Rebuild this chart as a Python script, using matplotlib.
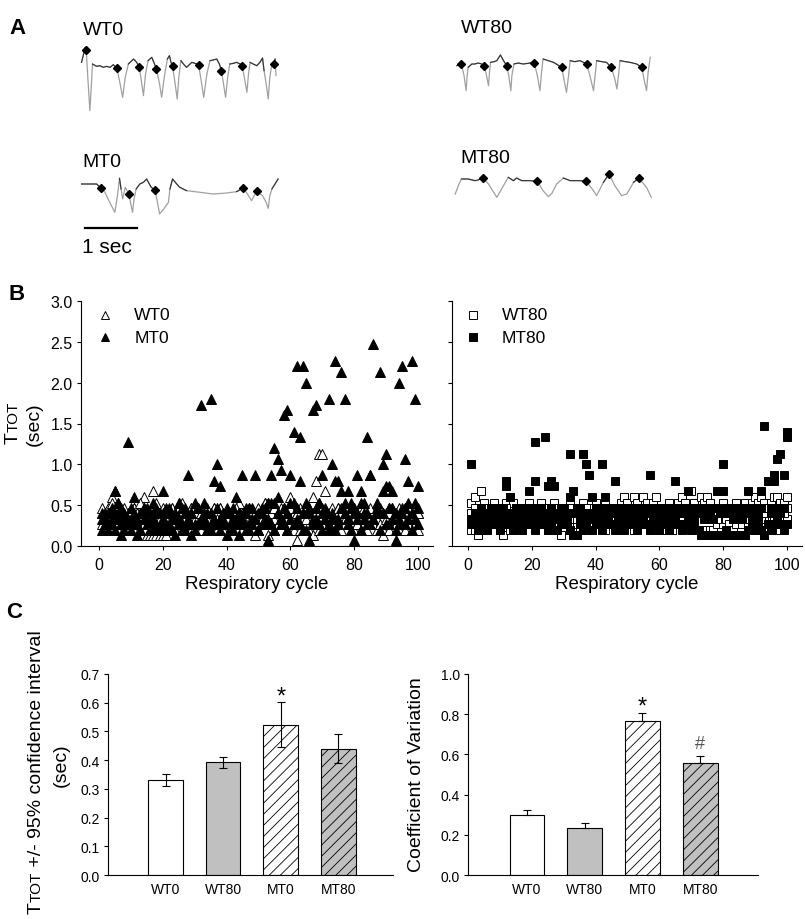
import numpy as np
import matplotlib
matplotlib.use('Agg')
from matplotlib import pyplot as plt
from matplotlib.ticker import FormatStrFormatter

plt.rcParams['font.family'] = ['Liberation Sans', 'DejaVu Sans']
plt.rcParams['hatch.linewidth'] = 0.6
plt.rcParams['axes.linewidth'] = 0.8

W, H = 805, 920
PX_PER_SEC = 52   # length of the 1 sec scale bar

# ---------------- panel A: example traces (time in s, amplitude a.u.), diamonds = breath onsets
wt0_t = [0.03, 0.10, 0.12, 0.15, 0.19, 0.22, 0.24, 0.32, 0.38, 0.45, 0.51, 0.58, 0.64, 0.71, 0.76, 0.82,
         0.87, 0.93, 1.03, 1.09, 1.14, 1.18, 1.22, 1.26, 1.31, 1.38, 1.42, 1.47, 1.53, 1.57, 1.62, 1.68,
         1.72, 1.75, 1.78, 1.83, 1.87, 1.90, 1.94, 2.00, 2.05, 2.15, 2.21, 2.28, 2.33, 2.38, 2.44, 2.50,
         2.56, 2.63, 2.68, 2.72, 2.76, 2.80, 2.84, 2.88, 2.95, 3.01, 3.08, 3.12, 3.16, 3.21, 3.24, 3.27,
         3.33, 3.40, 3.46, 3.51, 3.54, 3.58, 3.62, 3.65, 3.69, 3.74, 3.75, 3.77]
wt0_amp = [-0.85, -0.40, -0.48, -1.30, -2.30, -1.50, -0.90, -0.97, -0.95, -1.00,
           -0.97, -1.00, -0.92, -1.03, -1.40, -1.90, -1.30, -0.90, -0.75, -0.85,
           -1.00, -1.40, -1.85, -1.20, -0.80, -0.70, -0.85, -1.05, -1.50, -1.90,
           -1.30, -0.75, -0.65, -0.85, -0.97, -1.50, -1.95, -1.30, -0.80, -0.92,
           -1.00, -0.85, -0.88, -0.92, -1.40, -1.90, -1.20, -0.80, -0.78, -0.75,
           -0.90, -1.10, -1.50, -1.90, -1.30, -0.90, -0.88, -0.85, -0.90, -0.97,
           -1.30, -1.75, -1.20, -0.85, -0.90, -0.95, -0.85, -0.72, -1.10, -1.50,
           -1.95, -1.30, -0.90, -0.90, -0.75, -1.25]
wt0_marks = [2, 13, 20, 27, 34, 43, 51, 59, 73]

mt0_t = [0.03, 0.32, 0.40, 0.48, 0.54, 0.61, 0.67, 0.72, 0.76, 0.79, 0.82, 0.87, 0.94, 0.97, 1.01, 1.04,
         1.08, 1.15, 1.22, 1.28, 1.37, 1.44, 1.49, 1.53, 1.60, 1.70, 1.73, 1.78, 1.86, 1.92, 2.05, 2.31,
         2.56, 2.82, 3.01, 3.14, 3.22, 3.30, 3.35, 3.40, 3.46, 3.51, 3.58, 3.62, 3.65, 3.69, 3.75, 3.81]
mt0_amp = [-0.45, -0.45, -0.57, -0.70, -0.90, -1.12, -1.30, -0.80, -0.28, -0.60,
           -0.90, -0.55, -0.75, -1.00, -1.30, -0.90, -0.60, -0.45, -0.40, -0.30,
           -0.55, -0.62, -1.00, -1.35, -1.22, -1.00, -0.60, -0.30, -0.45, -0.55,
           -0.65, -0.70, -0.75, -0.72, -0.68, -0.57, -0.75, -0.95, -0.80, -0.67,
           -0.75, -0.80, -1.00, -1.18, -0.80, -0.60, -0.45, -0.30]
mt0_marks = [2, 12, 21, 35, 39]

wt80_t = [0.13, 0.22, 0.27, 0.31, 0.33, 0.35, 0.42, 0.48, 0.54, 0.61, 0.65, 0.69, 0.74, 0.76, 0.78, 0.85,
          0.90, 0.97, 1.03, 1.09, 1.13, 1.17, 1.19, 1.23, 1.31, 1.41, 1.54, 1.62, 1.68, 1.73, 1.76, 1.79,
          1.89, 1.99, 2.15, 2.19, 2.24, 2.28, 2.31, 2.40, 2.50, 2.63, 2.69, 2.76, 2.79, 2.82, 2.92, 3.01,
          3.10, 3.17, 3.21, 3.24, 3.27, 3.37, 3.46, 3.59, 3.69, 3.73, 3.78, 3.81, 3.85]
wt80_amp = [-0.50, -0.45, -0.80, -1.25, -0.80, -0.55, -0.45, -0.45, -0.42, -0.45,
            -0.50, -0.70, -1.10, -0.70, -0.40, -0.38, -0.35, -0.18, -0.35, -0.50,
            -0.80, -1.25, -0.80, -0.45, -0.42, -0.45, -0.42, -0.42, -0.80, -1.25,
            -0.70, -0.30, -0.35, -0.40, -0.55, -0.90, -1.30, -0.80, -0.35, -0.38,
            -0.35, -0.45, -0.80, -1.25, -0.80, -0.35, -0.38, -0.40, -0.55, -0.90,
            -1.20, -0.80, -0.35, -0.38, -0.40, -0.45, -0.55, -0.90, -1.25, -0.70,
            -0.25]
wt80_marks = [1, 10, 19, 27, 34, 41, 48, 56]

mt80_t = [0.10, 0.16, 0.22, 0.35, 0.48, 0.54, 0.63, 0.74, 0.82, 0.90, 1.01, 1.12, 1.22, 1.28, 1.38, 1.54,
          1.68, 1.79, 1.89, 1.96, 2.05, 2.18, 2.31, 2.50, 2.62, 2.76, 2.82, 2.95, 3.06, 3.17, 3.30, 3.40,
          3.53, 3.63, 3.78, 3.87]
mt80_amp = [-0.90, -0.65, -0.45, -0.45, -0.50, -0.48, -0.42, -0.60, -0.80, -1.00,
            -0.70, -0.40, -0.50, -0.42, -0.50, -0.50, -0.52, -0.80, -0.98, -0.88,
            -0.60, -0.42, -0.50, -0.50, -0.52, -0.80, -0.95, -0.55, -0.30, -0.65,
            -0.95, -0.90, -0.55, -0.42, -0.70, -1.00]
mt80_marks = [6, 16, 24, 28, 33]
scale_bar_sec = 1.0

# ---------------- panel B: TTOT (sec) for 100 respiratory cycles, 3 animals per group
wt0_a = [0.40, 0.33, 0.40, 0.60, 0.67, 0.40, 0.33, 0.27, 0.40, 0.33, 0.47, 0.40, 0.33, 0.60, 0.40, 0.27, 0.67, 0.40, 0.33, 0.40,
         0.40, 0.33, 0.47, 0.40, 0.53, 0.40, 0.33, 0.40, 0.47, 0.40, 0.33, 0.40, 0.40, 0.33, 0.40, 0.47, 0.40, 0.47, 0.33, 0.40,
         0.33, 0.40, 0.40, 0.53, 0.40, 0.33, 0.40, 0.40, 0.13, 0.40, 0.33, 0.53, 0.40, 0.40, 0.33, 0.40, 0.47, 0.40, 0.33, 0.60,
         0.40, 0.07, 0.33, 0.40, 0.47, 0.40, 0.60, 0.80, 1.13, 1.13, 0.67, 0.40, 0.33, 0.40, 0.47, 0.40, 0.33, 0.40, 0.40, 0.33,
         0.40, 0.47, 0.40, 0.33, 0.40, 0.40, 0.33, 0.40, 0.13, 0.40, 0.47, 0.40, 0.33, 0.40, 0.40, 0.47, 0.40, 0.33, 0.40, 0.40]
wt0_b = [0.27, 0.20, 0.27, 0.33, 0.27, 0.20, 0.27, 0.33, 0.20, 0.27, 0.20, 0.27, 0.33, 0.27, 0.13, 0.13, 0.13, 0.13, 0.13, 0.13,
         0.13, 0.20, 0.27, 0.20, 0.33, 0.27, 0.20, 0.27, 0.20, 0.33, 0.27, 0.20, 0.27, 0.20, 0.27, 0.33, 0.20, 0.27, 0.20, 0.27,
         0.20, 0.27, 0.33, 0.27, 0.20, 0.27, 0.20, 0.27, 0.27, 0.20, 0.33, 0.27, 0.13, 0.27, 0.20, 0.27, 0.33, 0.27, 0.20, 0.27,
         0.20, 0.27, 0.20, 0.33, 0.27, 0.20, 0.13, 0.27, 0.20, 0.27, 0.33, 0.20, 0.27, 0.20, 0.27, 0.20, 0.27, 0.33, 0.27, 0.20,
         0.27, 0.20, 0.27, 0.20, 0.33, 0.27, 0.20, 0.27, 0.20, 0.27, 0.20, 0.33, 0.27, 0.20, 0.27, 0.20, 0.27, 0.20, 0.27, 0.20]
wt0_c = [0.47, 0.40, 0.47, 0.53, 0.47, 0.53, 0.40, 0.47, 0.33, 0.40, 0.47, 0.40, 0.53, 0.47, 0.40, 0.33, 0.47, 0.53, 0.40, 0.47,
         0.33, 0.40, 0.47, 0.40, 0.47, 0.53, 0.40, 0.33, 0.47, 0.40, 0.47, 0.40, 0.33, 0.47, 0.40, 0.47, 0.33, 0.47, 0.40, 0.33,
         0.40, 0.33, 0.47, 0.40, 0.33, 0.40, 0.47, 0.33, 0.40, 0.47, 0.40, 0.53, 0.53, 0.40, 0.47, 0.40, 0.33, 0.47, 0.40, 0.47,
         0.33, 0.40, 0.47, 0.40, 0.33, 0.47, 0.40, 0.33, 0.40, 0.47, 0.40, 0.33, 0.47, 0.40, 0.47, 0.40, 0.47, 0.33, 0.40, 0.47,
         0.40, 0.33, 0.47, 0.40, 0.47, 0.33, 0.40, 0.47, 0.40, 0.33, 0.40, 0.47, 0.40, 0.47, 0.33, 0.40, 0.47, 0.40, 0.33, 0.40]

mt0_a = [0.40, 0.33, 0.27, 0.47, 0.67, 0.40, 0.13, 0.33, 0.27, 0.20, 0.60, 0.13, 0.40, 0.33, 0.47, 0.20, 0.53, 0.27, 0.40, 0.67,
         0.20, 0.47, 0.33, 0.13, 0.53, 0.27, 0.40, 0.87, 0.13, 0.53, 0.27, 0.33, 0.53, 0.20, 0.40, 0.27, 0.47, 0.33, 0.27, 0.13,
         0.40, 0.33, 0.60, 0.13, 0.87, 0.47, 0.20, 0.33, 0.87, 0.40, 0.27, 0.47, 0.07, 0.87, 0.53, 0.60, 0.33, 0.27, 0.40, 0.87,
         0.27, 0.33, 0.80, 0.40, 0.20, 0.07, 0.33, 0.47, 0.27, 0.87, 0.40, 0.20, 0.33, 0.80, 0.27, 0.67, 0.40, 0.33, 0.47, 0.07,
         0.87, 0.67, 0.40, 0.27, 0.87, 0.33, 0.53, 0.40, 0.67, 0.73, 0.27, 0.67, 0.07, 0.33, 0.47, 0.27, 0.80, 0.40, 0.33, 0.73]
mt0_b = [0.20, 0.27, 0.40, 0.33, 0.20, 0.53, 0.27, 0.40, 0.33, 0.47, 0.27, 0.33, 0.20, 0.47, 0.27, 0.40, 0.33, 0.20, 0.27, 0.40,
         0.47, 0.27, 0.20, 0.40, 0.33, 0.20, 0.47, 0.27, 0.40, 0.20, 0.47, 0.27, 0.33, 0.40, 0.20, 0.33, 0.27, 0.20, 0.40, 0.47,
         0.27, 0.20, 0.33, 0.40, 0.27, 0.20, 0.47, 0.27, 0.33, 0.20, 0.40, 0.27, 0.33, 0.53, 0.20, 0.40, 0.27, 0.47, 0.20, 0.33,
         0.53, 0.47, 0.27, 0.20, 0.53, 0.40, 0.27, 0.33, 0.53, 0.20, 0.47, 0.27, 0.40, 0.20, 0.33, 0.47, 0.53, 0.27, 0.20, 0.40,
         0.33, 0.20, 0.53, 0.40, 0.27, 0.33, 0.47, 0.20, 0.40, 0.27, 0.47, 0.33, 0.20, 0.27, 0.40, 0.47, 0.33, 0.20, 0.53, 0.27]
mt0_c = [0.33, 0.40, 0.20, 0.27, 0.40, 0.33, 0.47, 0.20, 1.27, 0.33, 0.40, 0.27, 0.20, 0.40, 0.33, 0.27, 0.40, 0.47, 0.20, 0.33,
         0.27, 0.40, 0.20, 0.33, 0.27, 0.47, 0.20, 0.33, 0.40, 0.27, 0.47, 1.73, 0.40, 0.27, 1.80, 0.80, 1.00, 0.73, 0.33, 0.40,
         0.20, 0.47, 0.27, 0.40, 0.33, 0.40, 0.27, 0.47, 0.33, 0.20, 0.47, 0.33, 0.53, 0.27, 1.20, 1.07, 0.93, 1.60, 1.67, 0.53,
         1.40, 2.20, 1.33, 2.20, 2.00, 0.47, 1.67, 1.73, 0.53, 0.40, 0.33, 1.80, 1.00, 2.27, 0.80, 2.13, 1.80, 0.67, 0.53, 0.47,
         0.40, 0.53, 0.33, 1.33, 0.87, 2.47, 0.40, 2.13, 1.00, 1.13, 0.73, 0.47, 0.40, 2.00, 2.20, 1.07, 0.53, 2.27, 1.80, 0.47]

wt80_a = [0.53, 0.60, 0.47, 0.67, 0.53, 0.40, 0.47, 0.53, 0.40, 0.47, 0.40, 0.53, 0.60, 0.53, 0.47, 0.40, 0.47, 0.40, 0.53, 0.47,
          0.40, 0.47, 0.53, 0.40, 0.47, 0.40, 0.53, 0.47, 0.40, 0.47, 0.40, 0.53, 0.47, 0.40, 0.47, 0.53, 0.40, 0.47, 0.40, 0.53,
          0.47, 0.40, 0.53, 0.47, 0.40, 0.47, 0.40, 0.53, 0.60, 0.53, 0.47, 0.60, 0.53, 0.47, 0.60, 0.53, 0.47, 0.53, 0.60, 0.47,
          0.40, 0.47, 0.53, 0.47, 0.40, 0.53, 0.60, 0.53, 0.47, 0.67, 0.53, 0.47, 0.60, 0.53, 0.60, 0.53, 0.47, 0.40, 0.47, 0.53,
          0.47, 0.40, 0.47, 0.53, 0.47, 0.40, 0.53, 0.47, 0.53, 0.60, 0.53, 0.60, 0.53, 0.47, 0.53, 0.60, 0.60, 0.53, 0.53, 0.60]
wt80_b = [0.20, 0.20, 0.13, 0.27, 0.20, 0.27, 0.33, 0.27, 0.33, 0.20, 0.13, 0.27, 0.20, 0.20, 0.27, 0.33, 0.27, 0.33, 0.27, 0.33,
          0.27, 0.33, 0.27, 0.33, 0.20, 0.20, 0.20, 0.27, 0.13, 0.27, 0.33, 0.27, 0.33, 0.27, 0.20, 0.27, 0.33, 0.27, 0.20, 0.27,
          0.33, 0.27, 0.20, 0.27, 0.33, 0.27, 0.20, 0.20, 0.27, 0.33, 0.27, 0.20, 0.27, 0.33, 0.27, 0.33, 0.27, 0.20, 0.27, 0.33,
          0.20, 0.20, 0.20, 0.20, 0.27, 0.33, 0.27, 0.33, 0.27, 0.27, 0.20, 0.20, 0.20, 0.20, 0.20, 0.20, 0.20, 0.27, 0.33, 0.27,
          0.33, 0.27, 0.20, 0.27, 0.33, 0.27, 0.33, 0.27, 0.20, 0.27, 0.33, 0.27, 0.33, 0.27, 0.20, 0.27, 0.33, 0.20, 0.27, 0.33]
wt80_c = [0.40, 0.47, 0.40, 0.33, 0.47, 0.40, 0.33, 0.40, 0.47, 0.33, 0.40, 0.47, 0.40, 0.33, 0.40, 0.47, 0.33, 0.40, 0.47, 0.40,
          0.33, 0.40, 0.40, 0.47, 0.33, 0.40, 0.33, 0.40, 0.47, 0.33, 0.40, 0.47, 0.40, 0.33, 0.40, 0.40, 0.47, 0.33, 0.40, 0.33,
          0.40, 0.47, 0.40, 0.33, 0.40, 0.33, 0.47, 0.40, 0.33, 0.40, 0.33, 0.40, 0.47, 0.40, 0.33, 0.40, 0.40, 0.47, 0.40, 0.33,
          0.47, 0.40, 0.33, 0.40, 0.47, 0.40, 0.33, 0.40, 0.47, 0.40, 0.33, 0.40, 0.47, 0.40, 0.33, 0.40, 0.47, 0.33, 0.40, 0.40,
          0.40, 0.47, 0.33, 0.40, 0.40, 0.47, 0.40, 0.33, 0.40, 0.47, 0.40, 0.33, 0.40, 0.47, 0.40, 0.33, 0.40, 0.27, 0.40, 0.47]

mt80_a = [0.33, 0.27, 0.20, 0.27, 0.33, 0.20, 0.27, 0.33, 0.27, 0.20, 0.27, 0.33, 0.27, 0.20, 0.33, 0.27, 0.20, 0.27, 0.33, 0.27,
          0.20, 0.27, 0.33, 0.27, 0.20, 0.27, 0.33, 0.20, 0.27, 0.33, 0.27, 0.20, 0.13, 0.13, 0.27, 0.20, 0.27, 0.33, 0.20, 0.27,
          0.33, 0.20, 0.27, 0.33, 0.27, 0.20, 0.27, 0.33, 0.20, 0.27, 0.33, 0.27, 0.20, 0.27, 0.33, 0.27, 0.20, 0.33, 0.27, 0.20,
          0.27, 0.33, 0.20, 0.27, 0.33, 0.27, 0.20, 0.27, 0.33, 0.20, 0.27, 0.20, 0.13, 0.13, 0.13, 0.13, 0.13, 0.13, 0.13, 0.13,
          0.20, 0.13, 0.13, 0.13, 0.13, 0.13, 0.13, 0.20, 0.27, 0.20, 0.27, 0.20, 0.13, 0.27, 0.20, 0.27, 0.33, 0.27, 0.20, 0.27]
mt80_b = [0.27, 0.33, 0.40, 0.33, 0.27, 0.40, 0.47, 0.33, 0.40, 0.47, 0.40, 0.73, 0.60, 0.40, 0.33, 0.40, 0.47, 0.40, 0.67, 0.47,
          0.80, 0.40, 0.47, 0.33, 0.73, 0.80, 0.73, 0.40, 0.33, 0.47, 0.40, 0.60, 0.67, 0.40, 0.47, 0.40, 0.33, 0.40, 0.60, 0.47,
          0.40, 0.33, 0.60, 0.47, 0.40, 0.80, 0.40, 0.47, 0.33, 0.40, 0.47, 0.40, 0.33, 0.47, 0.40, 0.47, 0.87, 0.40, 0.47, 0.40,
          0.33, 0.40, 0.47, 0.40, 0.80, 0.47, 0.40, 0.47, 0.67, 0.40, 0.33, 0.40, 0.47, 0.40, 0.33, 0.40, 0.47, 0.67, 0.40, 0.67,
          0.47, 0.40, 0.33, 0.47, 0.40, 0.33, 0.40, 0.67, 0.47, 0.40, 0.33, 0.67, 0.13, 0.80, 0.47, 0.87, 1.07, 1.13, 0.87, 1.33]
mt80_c = [1.00, 0.40, 0.33, 0.47, 0.40, 0.33, 0.27, 0.40, 0.33, 0.40, 0.47, 0.80, 0.40, 0.33, 0.47, 0.40, 0.33, 0.47, 0.40, 0.33,
          1.27, 0.47, 0.40, 1.33, 0.40, 0.47, 0.40, 0.33, 0.47, 0.40, 0.33, 1.13, 0.40, 0.47, 0.33, 1.13, 1.00, 0.87, 0.40, 0.33,
          0.47, 1.00, 0.40, 0.33, 0.47, 0.40, 0.33, 0.47, 0.40, 0.47, 0.33, 0.40, 0.47, 0.40, 0.33, 0.40, 0.47, 0.40, 0.33, 0.47,
          0.40, 0.47, 0.40, 0.33, 0.47, 0.40, 0.47, 0.40, 0.33, 0.47, 0.40, 0.47, 0.40, 0.33, 0.47, 0.40, 0.33, 0.47, 0.40, 1.00,
          0.40, 0.47, 0.40, 0.33, 0.47, 0.40, 0.47, 0.40, 0.33, 0.47, 0.40, 0.47, 1.47, 0.80, 0.40, 0.80, 0.47, 0.40, 0.47, 1.40]

# ---------------- panel C: group summaries
c_groups = ['WT0', 'WT80', 'MT0', 'MT80']
bar_fill = ['white', '#c0c0c0', 'white', '#c0c0c0']
bar_hatch = ['', '', '///', '///']
ttot_mean = [0.33, 0.393, 0.523, 0.44]
ttot_ci = [0.021, 0.019, 0.078, 0.05]
ttot_sig = ['', '', '*', '']
cv_mean = [0.30, 0.236, 0.765, 0.556]
cv_err = [0.025, 0.024, 0.043, 0.038]
cv_sig = ['', '', '*', '#']


fig = plt.figure(figsize=(W / 100, H / 100), dpi=100)


def px_axes(l, t, r, b):
    return fig.add_axes([l / W, 1 - b / H, (r - l) / W, (b - t) / H])


def px_text(x, y, s, **kw):
    return fig.text(x / W, 1 - y / H, s, **kw)


def stacked_label(x, y, pieces):
    # vertical label written bottom to top, pieces of different size (small caps TOT)
    rend = fig.canvas.get_renderer()
    for s, size in pieces:
        t = px_text(x, y, s, fontsize=size, rotation=90, rotation_mode='anchor', ha='left', va='baseline')
        y -= t.get_window_extent(rend).height


# ---- A
traces = [(wt0_t, wt0_amp, wt0_marks, (80, 35, 280, 115)),
          (mt0_t, mt0_amp, mt0_marks, (80, 170, 280, 220)),
          (wt80_t, wt80_amp, wt80_marks, (450, 50, 655, 100)),
          (mt80_t, mt80_amp, mt80_marks, (450, 165, 655, 205))]
trace_axes = []
for t, amp, marks, (l, top, r, b) in traces:
    ax = px_axes(l, top, r, b)
    ax.set_xlim(0, (r - l) / PX_PER_SEC)
    ax.set_ylim(-(b - top) * 0.03, 0)
    ax.axis('off')
    t = np.array(t)
    amp = np.array(amp)
    thr = amp.min() + 0.62 * (amp.max() - amp.min())
    ax.plot(t, amp, color='#a0a0a0', lw=0.9)
    ax.plot(t, np.where(amp > thr, amp, np.nan), color='#303030', lw=0.8)
    ax.plot(t[marks], amp[marks], ls='none', marker='D', ms=3.8, color='black')
    trace_axes.append(ax)

trace_axes[1].plot([0.1, 0.1 + scale_bar_sec], [-1.77, -1.77], color='black', lw=1.6, clip_on=False)

px_text(9, 34, 'A', fontsize=16, fontweight='bold')
px_text(83, 35, 'WT0', fontsize=14)
px_text(461, 33, 'WT80', fontsize=14)
px_text(82, 167, 'MT0', fontsize=14)
px_text(460, 163, 'MT80', fontsize=14)
px_text(82, 253, '1 sec', fontsize=15)

# ---- B
cycles = np.arange(1, 101)
panel_b = [((81, 302, 433, 547), (-5.6, 104.7), '^', 7.5, [wt0_a, wt0_b, wt0_c], [mt0_a, mt0_b, mt0_c],
            ('WT0', 'MT0'), (0.068, 0.151)),
           ((452, 302, 802, 547), (-5.1, 104.8), 's', 6.0, [wt80_a, wt80_b, wt80_c], [mt80_a, mt80_b, mt80_c],
            ('WT80', 'MT80'), (0.06, 0.143))]
for i, (box, xl, mk, ms, wt, mt, names, (mx, tx)) in enumerate(panel_b):
    ax = px_axes(*box)
    for v in wt:
        ax.plot(cycles, v, ls='none', marker=mk, ms=ms, mfc='white', mec='black', mew=0.7)
    for v in mt:
        ax.plot(cycles, v, ls='none', marker=mk, ms=ms, mfc='black', mec='black', mew=0.7)
    ax.set_xlim(*xl)
    ax.set_ylim(0, 3)
    ax.set_xticks(range(0, 101, 20))
    ax.set_yticks(np.arange(0, 3.01, 0.5))
    ax.yaxis.set_major_formatter(FormatStrFormatter('%.1f'))
    ax.tick_params(direction='out', length=3, width=0.8, labelsize=11.5, pad=3)
    ax.tick_params(axis='x', pad=5)
    ax.set_xlabel('Respiratory cycle', fontsize=13.5, labelpad=2)
    ax.spines['top'].set_visible(False)
    ax.spines['right'].set_visible(False)
    if i == 1:
        ax.tick_params(axis='y', labelleft=False)
    # legend
    ax.plot([mx], [0.943], marker=mk, ms=ms * 0.85, mfc='white', mec='black', mew=0.7,
            transform=ax.transAxes, clip_on=False)
    ax.plot([mx], [0.853], marker=mk, ms=ms * 0.85, mfc='black', mec='black', mew=0.7,
            transform=ax.transAxes, clip_on=False)
    ax.text(tx, 0.943, names[0], transform=ax.transAxes, fontsize=12.5, va='center')
    ax.text(tx, 0.853, names[1], transform=ax.transAxes, fontsize=12.5, va='center')

stacked_label(18, 444, [('T', 14), ('TOT', 11)])
px_text(34, 424, '(sec)', fontsize=14, rotation=90, ha='center', va='center')
px_text(8, 300, 'B', fontsize=16, fontweight='bold')

# ---- C
xpos = np.arange(1, 5)
panel_c = [((108, 675, 393, 876), (0, 4.95), 0.7, 0.1, ttot_mean, [ttot_ci, ttot_ci], ttot_sig),
           ((468, 675, 758, 876), (-0.02, 5.0), 1.0, 0.2, cv_mean, [[0] * 4, cv_err], cv_sig)]
for box, xl, top, step, mean, err, sig in panel_c:
    ax = px_axes(*box)
    bars = ax.bar(xpos, mean, width=0.6, color=bar_fill, edgecolor='black', lw=0.8, zorder=2)
    for br, h in zip(bars, bar_hatch):
        br.set_hatch(h)
    ax.errorbar(xpos, mean, yerr=err, fmt='none', ecolor='black', elinewidth=0.8,
                capsize=3, capthick=0.8, zorder=3)
    for k, s in enumerate(sig):
        if s == '*':
            ax.annotate(s, (xpos[k], mean[k] + err[1][k]), xytext=(0, 4.5), textcoords='offset points',
                        ha='center', va='center', fontsize=17)
        elif s:
            ax.annotate(s, (xpos[k], mean[k] + err[1][k]), xytext=(0, 8.5), textcoords='offset points',
                        ha='center', va='center', fontsize=13, color='#555555')
    ax.set_xlim(*xl)
    ax.set_ylim(0, top)
    ax.set_yticks(np.arange(0, top + 0.001, step))
    ax.yaxis.set_major_formatter(FormatStrFormatter('%.1f'))
    ax.set_xticks(xpos, c_groups)
    ax.tick_params(axis='y', direction='out', length=3, width=0.8, labelsize=10, pad=3)
    ax.tick_params(axis='x', length=0, labelsize=10, pad=5)
    ax.spines['top'].set_visible(False)
    ax.spines['right'].set_visible(False)

stacked_label(41, 914, [('T', 14), ('TOT', 11), (' +/- 95% confidence interval', 14)])
px_text(61, 765, '(sec)', fontsize=14, rotation=90, ha='center', va='center')
px_text(416, 775, 'Coefficient of Variation', fontsize=14, rotation=90, ha='center', va='center')
px_text(6, 618, 'C', fontsize=16, fontweight='bold')

fig.savefig('out.png', dpi=100)
